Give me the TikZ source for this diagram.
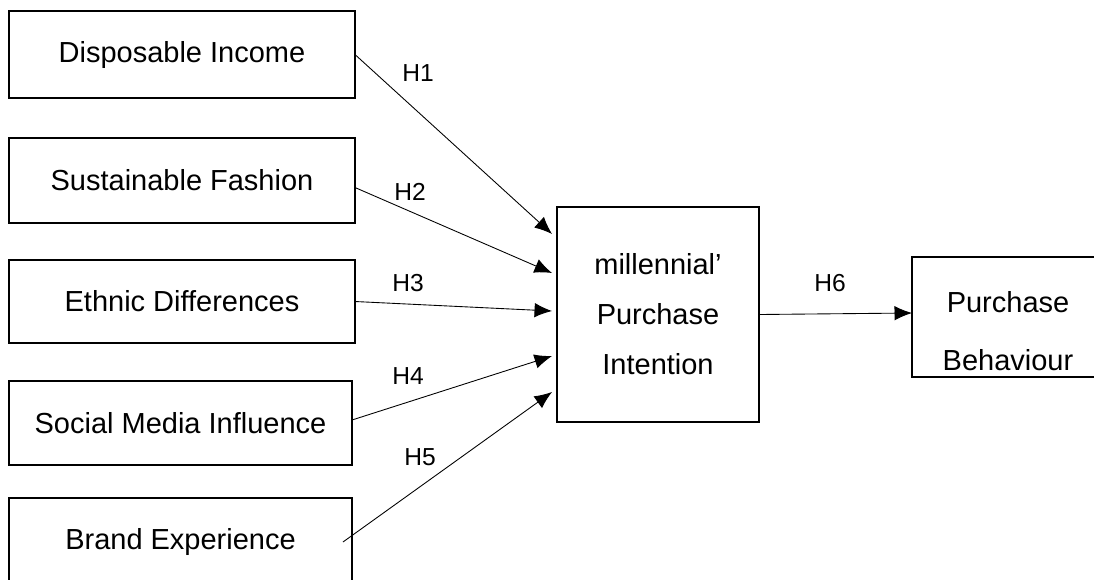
\documentclass[tikz,border=0pt]{standalone}
\usepackage{fontspec}
\setmainfont{Liberation Sans}
\usetikzlibrary{positioning, arrows.meta}
\tikzset{>={Latex[length=3.5mm,width=2.9mm]}}
\tikzset{
    var/.style={draw, line width=1.2pt, outer sep=0pt, align=center, font=\fontsize{16.5}{20}\selectfont},
    hyp/.style={font=\fontsize{14}{16}\selectfont},
    link/.style={->, line width=0.5pt}
}

\begin{document}
\begin{tikzpicture}[x=0.02cm, y=-0.02cm]
    \useasboundingbox (0,0) rectangle (1094,579);

    % independent variables
    \node[var, minimum width=6.92cm, minimum height=1.74cm] (income) at (182,54.5) {Disposable Income};
    \node[var, minimum width=6.92cm, minimum height=1.70cm] (fashion) at (182,180.5) {Sustainable Fashion};
    \node[var, minimum width=6.92cm, minimum height=1.66cm] (ethnic) at (182,301.5) {Ethnic Differences};
    \node[var, minimum width=6.86cm, minimum height=1.68cm] (social) at (180.5,423) {Social Media Influence};
    \node[var, minimum width=6.86cm, minimum height=1.76cm] (brand) at (180.5,542) {Brand Experience};

    \node[var, minimum width=4.04cm, minimum height=4.30cm, font=\fontsize{16.5}{28.4}\selectfont] (intention) at (658,314.5) {millennial'\\Purchase\\Intention};
    \node[var, minimum width=3.84cm, minimum height=2.40cm, font=\fontsize{16.5}{33}\selectfont] (behaviour) at (1008,317) {\rule{0pt}{28pt}Purchase\\Behaviour};

    \draw[link] (income.east) -- ([shift={(-5,-80.5)}]intention.west);
    \draw[link] ([shift={(0,7)}]fashion.east) -- ([shift={(-5,-41.5)}]intention.west);
    \draw[link] (ethnic.east) -- ([shift={(-5,-3.5)}]intention.west);
    \draw[link] ([shift={(0,-3)}]social.east) -- ([shift={(-5,41.5)}]intention.west);
    \draw[link] ([shift={(-9,0)}]brand.east) -- ([shift={(-5,77.5)}]intention.west);
    \draw[link] (intention.east) -- ([shift={(0,-4)}]behaviour.west);

    % hypotheses
    \node[hyp] (h1) at (418,73) {H1};
    \node[hyp] (h2) at (410,192) {H2};
    \node[hyp] (h3) at (408,283) {H3};
    \node[hyp] (h4) at (408,376) {H4};
    \node[hyp] (h5) at (420,457) {H5};
    \node[hyp] (h6) at (830,283) {H6};
\end{tikzpicture}
\end{document}
